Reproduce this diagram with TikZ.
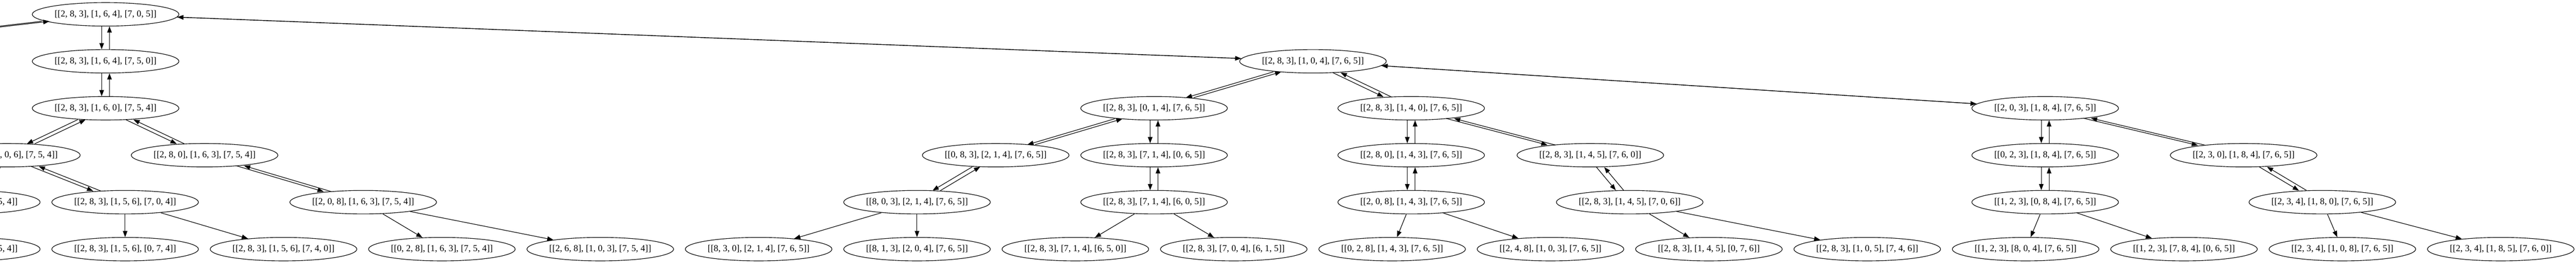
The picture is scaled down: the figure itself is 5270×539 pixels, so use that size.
\documentclass[tikz,border=0pt]{standalone}
\usepackage{fontspec}
\setmainfont{Liberation Serif}
\usetikzlibrary{arrows.meta, shapes.geometric}
\tikzset{
    state/.style={ellipse, draw, line width=0.9pt, minimum width=225pt, minimum height=36pt, inner sep=0pt, font=\fontsize{14}{16}\selectfont},
    move/.style={-{Triangle[length=9.5pt, width=7pt]}, line width=0.9pt},
    dn/.style={move, transform canvas={xshift=-6pt}},
    up/.style={move, transform canvas={xshift=6pt}}
}

\begin{document}
\begin{tikzpicture}[x=0.75pt, y=-0.75pt]
  \useasboundingbox (0,0) rectangle (5270,539);
  \clip (0,0) rectangle (5270,539);

  \node[state] (n283164705) at (216,29.3) {[[2, 8, 3], [1, 6, 4], [7, 0, 5]]};
  \coordinate (offleft) at (-613,125.3);

  \node[state] (n283164750) at (216,125.3) {[[2, 8, 3], [1, 6, 4], [7, 5, 0]]};
  \node[state] (n283104765) at (2686,125.3) {[[2, 8, 3], [1, 0, 4], [7, 6, 5]]};

  \node[state] (n283160754) at (216,221.3) {[[2, 8, 3], [1, 6, 0], [7, 5, 4]]};
  \node[state] (n283014765) at (2361,221.3) {[[2, 8, 3], [0, 1, 4], [7, 6, 5]]};
  \node[state] (n283140765) at (2887,221.3) {[[2, 8, 3], [1, 4, 0], [7, 6, 5]]};
  \node[state] (n203184765) at (4184,221.3) {[[2, 0, 3], [1, 8, 4], [7, 6, 5]]};

  \node[state] (n283106754) at (14,317.3) {[[2, 8, 3], [1, 0, 6], [7, 5, 4]]};
  \node[state] (n280163754) at (418.5,317.3) {[[2, 8, 0], [1, 6, 3], [7, 5, 4]]};
  \node[state] (n083214765) at (2037,317.3) {[[0, 8, 3], [2, 1, 4], [7, 6, 5]]};
  \node[state] (n283714065) at (2361,317.3) {[[2, 8, 3], [7, 1, 4], [0, 6, 5]]};
  \node[state] (n280143765) at (2887,317.3) {[[2, 8, 0], [1, 4, 3], [7, 6, 5]]};
  \node[state] (n283145760) at (3253.5,317.3) {[[2, 8, 3], [1, 4, 5], [7, 6, 0]]};
  \node[state] (n023184765) at (4184,317.3) {[[0, 2, 3], [1, 8, 4], [7, 6, 5]]};
  \node[state] (n230184765) at (4590,317.3) {[[2, 3, 0], [1, 8, 4], [7, 6, 5]]};

  \node[state] (n203186754) at (-68,413.3) {[[2, 0, 3], [1, 8, 6], [7, 5, 4]]};
  \node[state] (n283156704) at (256,413.3) {[[2, 8, 3], [1, 5, 6], [7, 0, 4]]};
  \node[state] (n208163754) at (743,413.3) {[[2, 0, 8], [1, 6, 3], [7, 5, 4]]};
  \node[state] (n803214765) at (1876,413.3) {[[8, 0, 3], [2, 1, 4], [7, 6, 5]]};
  \node[state] (n283714605) at (2361,413.3) {[[2, 8, 3], [7, 1, 4], [6, 0, 5]]};
  \node[state] (n208143765) at (2887,413.3) {[[2, 0, 8], [1, 4, 3], [7, 6, 5]]};
  \node[state] (n283145706) at (3334,413.3) {[[2, 8, 3], [1, 4, 5], [7, 0, 6]]};
  \node[state] (n123084765) at (4184,413.3) {[[1, 2, 3], [0, 8, 4], [7, 6, 5]]};
  \node[state] (n234180765) at (4751,413.3) {[[2, 3, 4], [1, 8, 0], [7, 6, 5]]};

  \node[state] (n023186754) at (-68,509.3) {[[0, 2, 3], [1, 8, 6], [7, 5, 4]]};
  \node[state] (n283156074) at (256,509.3) {[[2, 8, 3], [1, 5, 6], [0, 7, 4]]};
  \node[state] (n283156740) at (580,509.3) {[[2, 8, 3], [1, 5, 6], [7, 4, 0]]};
  \node[state] (n028163754) at (904,509.3) {[[0, 2, 8], [1, 6, 3], [7, 5, 4]]};
  \node[state] (n268103754) at (1228,509.3) {[[2, 6, 8], [1, 0, 3], [7, 5, 4]]};
  \node[state] (n830214765) at (1552,509.3) {[[8, 3, 0], [2, 1, 4], [7, 6, 5]]};
  \node[state] (n813204765) at (1876,509.3) {[[8, 1, 3], [2, 0, 4], [7, 6, 5]]};
  \node[state] (n283714650) at (2200,509.3) {[[2, 8, 3], [7, 1, 4], [6, 5, 0]]};
  \node[state] (n283704615) at (2524,509.3) {[[2, 8, 3], [7, 0, 4], [6, 1, 5]]};
  \node[state] (n028143765) at (2848,509.3) {[[0, 2, 8], [1, 4, 3], [7, 6, 5]]};
  \node[state] (n248103765) at (3172,509.3) {[[2, 4, 8], [1, 0, 3], [7, 6, 5]]};
  \node[state] (n283145076) at (3496,509.3) {[[2, 8, 3], [1, 4, 5], [0, 7, 6]]};
  \node[state] (n283105746) at (3820,509.3) {[[2, 8, 3], [1, 0, 5], [7, 4, 6]]};
  \node[state] (n123804765) at (4144,509.3) {[[1, 2, 3], [8, 0, 4], [7, 6, 5]]};
  \node[state] (n123784065) at (4468,509.3) {[[1, 2, 3], [7, 8, 4], [0, 6, 5]]};
  \node[state] (n234108765) at (4792,509.3) {[[2, 3, 4], [1, 0, 8], [7, 6, 5]]};
  \node[state] (n234185760) at (5116,509.3) {[[2, 3, 4], [1, 8, 5], [7, 6, 0]]};

  \draw
  (n283164705) edge[dn] (offleft)
  (offleft) edge[up] (n283164705)
  (n283164705) edge[dn] (n283164750)
  (n283164750) edge[up] (n283164705)
  (n283164705) edge[move] (n283104765)
  (n283104765) edge[move] (n283164705)
  (n283164750) edge[dn] (n283160754)
  (n283160754) edge[up] (n283164750)
  (n283160754) edge[dn] (n283106754)
  (n283106754) edge[up] (n283160754)
  (n283160754) edge[dn] (n280163754)
  (n280163754) edge[up] (n283160754)
  (n283106754) edge[dn] (n203186754)
  (n203186754) edge[up] (n283106754)
  (n283106754) edge[dn] (n283156704)
  (n283156704) edge[up] (n283106754)
  (n280163754) edge[dn] (n208163754)
  (n208163754) edge[up] (n280163754)
  (n283104765) edge[dn] (n283014765)
  (n283014765) edge[up] (n283104765)
  (n283104765) edge[dn] (n283140765)
  (n283140765) edge[up] (n283104765)
  (n283104765) edge[move] (n203184765)
  (n203184765) edge[move] (n283104765)
  (n283014765) edge[dn] (n083214765)
  (n083214765) edge[up] (n283014765)
  (n283014765) edge[dn] (n283714065)
  (n283714065) edge[up] (n283014765)
  (n083214765) edge[dn] (n803214765)
  (n803214765) edge[up] (n083214765)
  (n283714065) edge[dn] (n283714605)
  (n283714605) edge[up] (n283714065)
  (n283140765) edge[dn] (n280143765)
  (n280143765) edge[up] (n283140765)
  (n283140765) edge[dn] (n283145760)
  (n283145760) edge[up] (n283140765)
  (n280143765) edge[dn] (n208143765)
  (n208143765) edge[up] (n280143765)
  (n283145760) edge[dn] (n283145706)
  (n283145706) edge[up] (n283145760)
  (n203184765) edge[dn] (n023184765)
  (n023184765) edge[up] (n203184765)
  (n203184765) edge[dn] (n230184765)
  (n230184765) edge[up] (n203184765)
  (n023184765) edge[dn] (n123084765)
  (n123084765) edge[up] (n023184765)
  (n230184765) edge[dn] (n234180765)
  (n234180765) edge[up] (n230184765)
  (n283156704) edge[move] (n283156074)
  (n283156704) edge[move] (n283156740)
  (n208163754) edge[move] (n028163754)
  (n208163754) edge[move] (n268103754)
  (n803214765) edge[move] (n830214765)
  (n803214765) edge[move] (n813204765)
  (n283714605) edge[move] (n283714650)
  (n283714605) edge[move] (n283704615)
  (n208143765) edge[move] (n028143765)
  (n208143765) edge[move] (n248103765)
  (n283145706) edge[move] (n283145076)
  (n283145706) edge[move] (n283105746)
  (n123084765) edge[move] (n123804765)
  (n123084765) edge[move] (n123784065)
  (n234180765) edge[move] (n234108765)
  (n234180765) edge[move] (n234185760)
  ;
\end{tikzpicture}
\end{document}
